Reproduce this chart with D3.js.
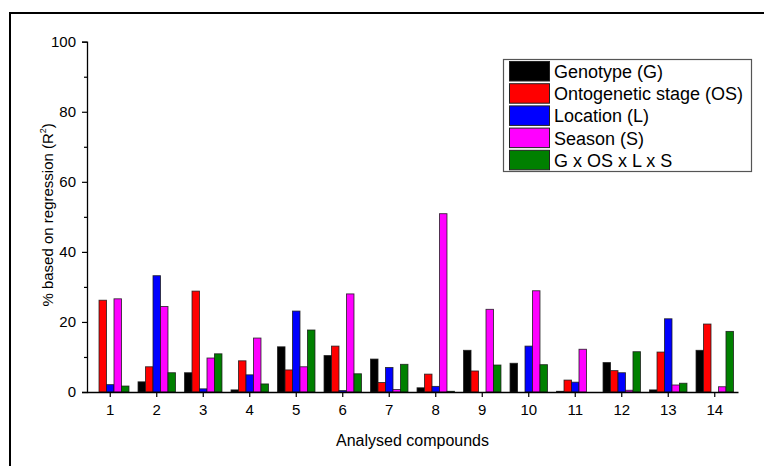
<!DOCTYPE html>
<html>
<head>
<meta charset="utf-8">
<script src="https://cdn.jsdelivr.net/npm/d3@7"></script>
<style>
  html, body { margin: 0; padding: 0; background: #fff; }
  svg { display: block; font-family: "Liberation Sans", Arial, Helvetica, sans-serif; }
</style>
</head>
<body>
<svg id="chart" width="764" height="466"></svg>
<script>
// Compounds 1..14 on the x axis
const categories = ["1","2","3","4","5","6","7","8","9","10","11","12","13","14"];

// Variance explained (% R²) per factor for each compound
const seriesNames = ["Genotype (G)", "Ontogenetic stage (OS)", "Location (L)", "Season (S)", "G x OS x L x S"];
const genotypeVals    = [0.0, 2.9, 5.5, 0.6, 12.9, 10.4, 9.4, 1.2, 11.9, 8.2, 0.2, 8.4, 0.6, 11.9];
const ontoStageVals   = [26.2, 7.2, 28.8, 8.9, 6.3, 13.1, 2.7, 5.1, 6.0, 0.0, 3.4, 6.1, 11.4, 19.4];
const locationVals    = [2.1, 33.2, 0.9, 4.9, 23.1, 0.4, 7.0, 1.6, 0.0, 13.1, 2.8, 5.5, 20.9, 0.0];
const seasonVals      = [26.6, 24.4, 9.7, 15.4, 7.2, 28.0, 0.7, 50.9, 23.6, 28.9, 12.2, 0.5, 2.0, 1.5];
const interactionVals = [1.7, 5.5, 10.9, 2.3, 17.7, 5.2, 7.9, 0.2, 7.7, 7.8, 0.0, 11.5, 2.5, 17.3];
const seriesColors = ["#000000", "#ff0000", "#0000ff", "#ff00ff", "#008000"];

const yMajorTicks = [0, 20, 40, 60, 80, 100];
const yMinorTicks = [10, 30, 50, 70, 90];

const series = [genotypeVals, ontoStageVals, locationVals, seasonVals, interactionVals];

const svg = d3.select("#chart");

// Outer frame lines (left and top)
svg.append("line").attr("x1", 10).attr("x2", 10).attr("y1", 13).attr("y2", 466)
  .attr("stroke", "#000").attr("stroke-width", 2);
svg.append("line").attr("x1", 9).attr("x2", 764).attr("y1", 13).attr("y2", 13)
  .attr("stroke", "#000").attr("stroke-width", 2);

const plot = { left: 87, right: 738, top: 41.7, bottom: 392 };

const x = d3.scaleBand().domain(categories).range([plot.left, plot.right]).paddingInner(0).paddingOuter(0);
const groupW = x.bandwidth() * 0.805;
const x1 = d3.scaleBand().domain(d3.range(series.length)).range([0, groupW]).padding(0);
const y = d3.scaleLinear().domain([0, 100]).range([plot.bottom, plot.top]);

// Bars
const groups = svg.append("g").selectAll("g")
  .data(categories)
  .join("g")
  .attr("transform", d => `translate(${x(d) + (x.bandwidth() - groupW) / 2},0)`);

groups.selectAll("rect")
  .data((d, i) => series.map((s, k) => ({ k, v: s[i] })))
  .join("rect")
  .attr("x", d => x1(d.k))
  .attr("width", x1.bandwidth())
  .attr("y", d => y(d.v))
  .attr("height", d => y(0) - y(d.v))
  .attr("fill", d => seriesColors[d.k])
  .attr("stroke", "#1a1a1a")
  .attr("stroke-width", 0.9)
  .attr("stroke-opacity", 0.85);

// Y axis with major and minor ticks
const yAxis = svg.append("g").attr("transform", `translate(${plot.left},0)`)
  .call(d3.axisLeft(y).tickValues(yMajorTicks).tickSize(5).tickPadding(6).tickFormat(d3.format("d")));
yAxis.select(".domain").attr("stroke-width", 1.3);
yAxis.selectAll(".tick line").attr("stroke-width", 1.2);
yAxis.selectAll("text").attr("font-size", 15).attr("fill", "#000")
  .attr("font-family", "'Liberation Sans', Arial, sans-serif");
svg.append("g").attr("transform", `translate(${plot.left},0)`)
  .call(d3.axisLeft(y).tickValues(yMinorTicks).tickSize(3).tickFormat(""))
  .call(g => g.select(".domain").remove())
  .selectAll(".tick line").attr("stroke-width", 1.2);

// X axis
const xAxis = svg.append("g").attr("transform", `translate(0,${plot.bottom})`)
  .call(d3.axisBottom(x).tickSize(5).tickSizeOuter(0).tickPadding(7));
xAxis.select(".domain").attr("stroke-width", 1.3);
xAxis.selectAll(".tick line").attr("stroke-width", 1.2);
xAxis.selectAll("text").attr("font-size", 15).attr("fill", "#000")
  .attr("font-family", "'Liberation Sans', Arial, sans-serif");

// Axis titles
svg.append("text")
  .attr("x", (plot.left + plot.right) / 2)
  .attr("y", 446)
  .attr("text-anchor", "middle")
  .attr("font-size", 16)
  .text("Analysed compounds");

const yTitle = svg.append("text")
  .attr("transform", `translate(53,${(plot.top + plot.bottom) / 2 - 2}) rotate(-90)`)
  .attr("text-anchor", "middle")
  .attr("font-size", 15);
yTitle.append("tspan").text("% based on regression (R");
yTitle.append("tspan").attr("font-size", 9).attr("dy", -7).text("2");
yTitle.append("tspan").attr("dy", 7).text(")");

// Legend
const legend = svg.append("g");
legend.append("rect")
  .attr("x", 503.5).attr("y", 59.5).attr("width", 248).attr("height", 112)
  .attr("fill", "#fff").attr("stroke", "#555").attr("stroke-width", 1.2);
const rowH = 22.2;
seriesNames.forEach((name, k) => {
  const top = 61.5 + k * rowH;
  legend.append("rect")
    .attr("x", 509.5).attr("y", top).attr("width", 40).attr("height", 19.5)
    .attr("fill", seriesColors[k]).attr("stroke", "#222").attr("stroke-width", 1);
  legend.append("text")
    .attr("x", 554).attr("y", top + 16.5)
    .attr("font-size", 18)
    .text(name);
});
</script>
</body>
</html>
